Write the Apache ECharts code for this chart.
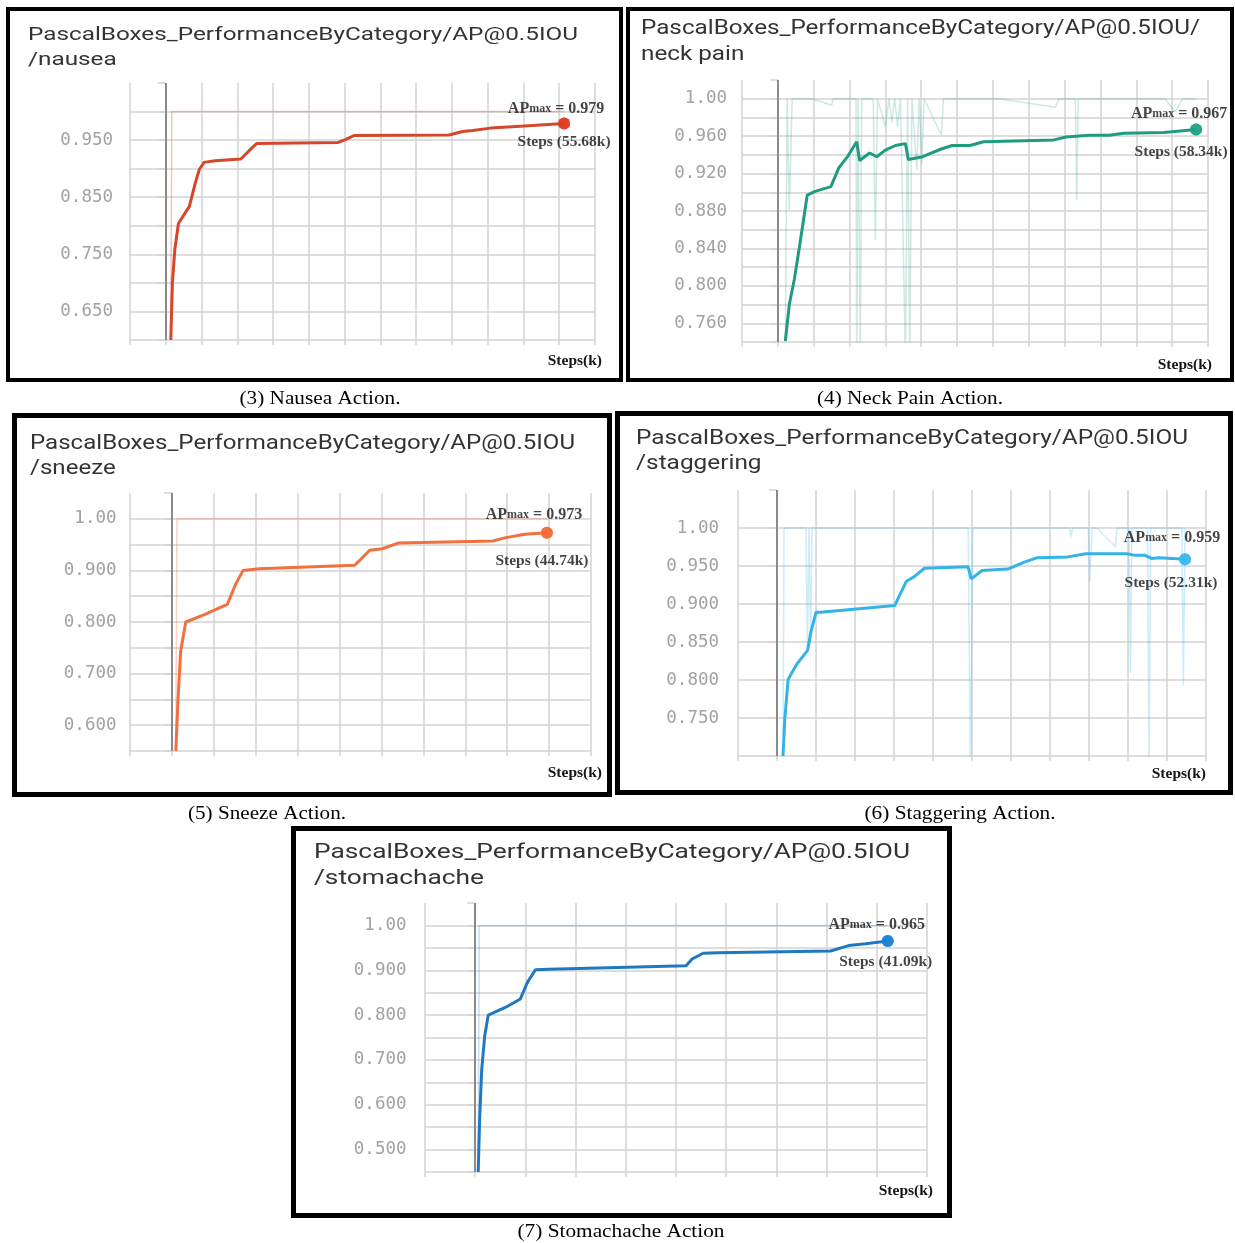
<!DOCTYPE html>
<html>
<head>
<meta charset="utf-8">
<script src="https://cdn.jsdelivr.net/npm/echarts@6/dist/echarts.min.js"></script>
<style>
  html, body { margin: 0; padding: 0; background: #ffffff; }
  #chart { width: 1235px; height: 1243px; }
</style>
</head>
<body>
<div id="chart"></div>
<script>
// ---------------- data (steps in thousands, AP@0.5IOU) ----------------
// smoothed curves
const nauseaSteps = [0.7, 0.93, 1.26, 1.77, 3.3, 4.15, 4.7, 5.36, 6.9, 10.5, 11.6, 12.7, 24.1, 25.1, 26.3, 39.6, 41.5, 42.9, 45.4, 49.0, 55.68];
const nauseaAP    = [0.600, 0.700, 0.758, 0.804, 0.834, 0.876, 0.899, 0.911, 0.914, 0.917, 0.931, 0.944, 0.946, 0.951, 0.958, 0.959, 0.965, 0.967, 0.971, 0.974, 0.979];

const neckPainSteps = [1.04, 1.6, 2.3, 3.1, 4.1, 5.2, 7.4, 8.5, 9.8, 11.0, 11.4, 12.8, 13.8, 15.0, 16.4, 17.8, 18.2, 20.2, 22.7, 24.3, 26.8, 28.7, 38.5, 40.2, 43.4, 46.2, 48.3, 53.8, 58.34];
const neckPainAP    = [0.741, 0.780, 0.807, 0.846, 0.897, 0.901, 0.906, 0.926, 0.939, 0.954, 0.934, 0.942, 0.938, 0.945, 0.950, 0.952, 0.935, 0.938, 0.946, 0.950, 0.950, 0.954, 0.956, 0.959, 0.961, 0.961, 0.963, 0.964, 0.967];

const sneezeSteps = [0.47, 0.7, 1.04, 1.65, 3.8, 6.6, 7.6, 8.5, 10.4, 21.8, 22.5, 23.6, 25.1, 27.0, 38.3, 39.7, 42.1, 44.74];
const sneezeAP    = [0.550, 0.640, 0.743, 0.800, 0.814, 0.834, 0.873, 0.900, 0.903, 0.910, 0.921, 0.939, 0.942, 0.953, 0.957, 0.963, 0.970, 0.973];

const staggeringSteps = [0.77, 1.0, 1.43, 2.55, 3.93, 4.34, 5.0, 5.6, 15.1, 15.6, 16.6, 17.6, 18.9, 24.5, 24.9, 26.3, 29.6, 31.7, 33.4, 37.3, 39.6, 44.9, 45.9, 47.2, 48.0, 49.0, 52.31];
const staggeringAP    = [0.700, 0.749, 0.801, 0.821, 0.839, 0.863, 0.889, 0.889, 0.898, 0.909, 0.930, 0.936, 0.947, 0.949, 0.933, 0.944, 0.946, 0.955, 0.961, 0.962, 0.966, 0.966, 0.964, 0.964, 0.960, 0.961, 0.959];

const stomachacheSteps = [0.3, 0.44, 0.65, 0.95, 1.3, 3.0, 4.5, 5.2, 6.0, 7.35, 21.0, 21.6, 22.7, 24.2, 35.4, 37.2, 38.9, 41.09];
const stomachacheAP    = [0.450, 0.567, 0.679, 0.754, 0.800, 0.817, 0.836, 0.873, 0.901, 0.902, 0.910, 0.925, 0.938, 0.939, 0.943, 0.955, 0.959, 0.965];

// raw (unsmoothed) evaluations drawn faintly behind the curves
const nauseaRawSteps = [0.7, 0.85, 55.68];
const nauseaRawAP    = [0.600, 1.000, 1.000];

const neckPainRawSteps = [1.04, 1.3, 1.6, 2.0, 4.8, 7.5, 7.7, 10.9, 11.0, 11.2, 11.5, 11.7, 13.3, 13.6, 13.9, 15.0, 15.5, 15.9, 16.3, 16.7, 17.1, 17.8, 18.1, 18.4, 18.7, 19.4, 19.7, 20.1, 20.4, 22.8, 23.1, 30.8, 38.7, 39.2, 41.5, 41.7, 41.9, 54.0, 55.4, 56.5, 58.34];
const neckPainRawAP    = [0.741, 1.000, 0.881, 1.000, 1.000, 0.993, 1.000, 1.000, 0.720, 1.000, 0.720, 1.000, 1.000, 0.849, 1.000, 0.970, 1.000, 0.975, 1.000, 0.970, 1.000, 0.720, 1.000, 0.720, 1.000, 0.924, 1.000, 0.930, 1.000, 0.961, 1.000, 1.000, 0.991, 1.000, 1.000, 0.892, 1.000, 1.000, 0.986, 1.000, 1.000];

const sneezeRawSteps = [0.47, 0.6, 44.74];
const sneezeRawAP    = [0.550, 1.000, 1.000];

const staggeringRawSteps = [0.77, 0.9, 3.7, 3.9, 4.1, 4.3, 4.5, 24.5, 24.8, 25.1, 37.5, 37.7, 37.9, 39.9, 40.1, 40.4, 41.0, 43.4, 43.6, 45.1, 45.3, 45.5, 47.5, 47.7, 47.9, 51.9, 52.1, 52.31];
const staggeringRawAP    = [0.700, 1.000, 1.000, 0.840, 1.000, 0.850, 1.000, 1.000, 0.680, 1.000, 1.000, 0.988, 1.000, 1.000, 0.929, 1.000, 1.000, 0.975, 1.000, 1.000, 0.810, 1.000, 1.000, 0.680, 1.000, 1.000, 0.793, 1.000];

const stomachacheRawSteps = [0.3, 0.4, 41.09];
const stomachacheRawAP    = [0.450, 1.000, 1.000];

// axis ranges and tick spacing for the five panels
const xAxisMax   = [60, 60, 50, 55, 45];
const xAxisStep  = 5;
const yAxisMin   = [0.60, 0.74, 0.55, 0.70, 0.45];
const yAxisMax   = [1.05, 1.02, 1.05, 1.05, 1.05];
const yAxisStep  = [0.05, 0.02, 0.05, 0.05, 0.05];
const yLabelEvery = [2, 2, 2, 1, 2];

// texts
const titleLine1 = ['PascalBoxes_PerformanceByCategory/AP@0.5IOU', 'PascalBoxes_PerformanceByCategory/AP@0.5IOU/', 'PascalBoxes_PerformanceByCategory/AP@0.5IOU', 'PascalBoxes_PerformanceByCategory/AP@0.5IOU', 'PascalBoxes_PerformanceByCategory/AP@0.5IOU'];
const titleLine2 = ['/nausea', 'neck pain', '/sneeze', '/staggering', '/stomachache'];
const captions   = ['(3) Nausea Action.', '(4) Neck Pain Action.', '(5) Sneeze Action.', '(6) Staggering Action.', '(7) Stomachache Action'];
const xAxisName  = 'Steps(k)';

const steps    = [nauseaSteps, neckPainSteps, sneezeSteps, staggeringSteps, stomachacheSteps];
const aps      = [nauseaAP, neckPainAP, sneezeAP, staggeringAP, stomachacheAP];
const rawSteps = [nauseaRawSteps, neckPainRawSteps, sneezeRawSteps, staggeringRawSteps, stomachacheRawSteps];
const rawAPs   = [nauseaRawAP, neckPainRawAP, sneezeRawAP, staggeringRawAP, stomachacheRawAP];

// ---------------- styling / layout ----------------
const colors = [
  { line: '#d4472b', raw: 'rgba(212,71,43,0.30)',  dot: '#de3a1e' },
  { line: '#1f9b7f', raw: 'rgba(31,155,127,0.22)', dot: '#1ea384' },
  { line: '#f2703f', raw: 'rgba(242,112,63,0.30)', dot: '#f26c35' },
  { line: '#33b3e6', raw: 'rgba(51,179,230,0.25)', dot: '#38b8ec' },
  { line: '#2079c0', raw: 'rgba(32,121,192,0.25)', dot: '#1c7fd4' }
];

const layout = [
  { grid: [130, 83, 465, 257],   frame: [6, 7, 623, 382, 4],      title: [28, 35, 60, 550, 19],     caption: [320, 399, 161],  labelMargin: 17,   nameGap: 7,   namePad: 13, apOff: [-8, -15],  stOff: [0, 18] },
  { grid: [742, 80, 466, 262],   frame: [626, 7, 1234, 382, 4],   title: [641, 29, 55, 559, 19.5],  caption: [910, 399, 186],  labelMargin: 15,   nameGap: 4,   namePad: 15, apOff: [-17, -16], stOff: [-15, 22] },
  { grid: [130, 493, 461, 258],  frame: [12, 413, 612, 797, 5],   title: [30, 444, 469, 545, 19.5], caption: [267, 814, 158],  labelMargin: 13.5, nameGap: 11,  namePad: 14, apOff: [-13, -18], stOff: [-5, 28] },
  { grid: [738, 490, 468, 266],  frame: [615, 411, 1233, 795, 5], title: [636, 439, 464, 552, 19.5], caption: [960, 814, 191], labelMargin: 19,  nameGap: 0,   namePad: 10, apOff: [-13, -21], stOff: [-14, 24] },
  { grid: [425, 903, 502, 269],  frame: [291, 826, 952, 1218, 5], title: [314, 853, 879, 596, 20.5], caption: [621, 1232, 207], labelMargin: 18.5, nameGap: 6, namePad: 11, apOff: [-11, -16], stOff: [-2, 21] }
];

const GRID_COLOR = '#d3d3d3';
const ZERO_LINE_COLOR = '#8a8a8a';

// text width measurement for horizontally stretched titles/captions
const measureCtx = document.createElement('canvas').getContext('2d');
function textWidth(str, font) { measureCtx.font = font; return measureCtx.measureText(str).width; }

function zip(xs, ys) { return xs.map((x, i) => [x, ys[i]]); }

function yLabelFormatter(p) {
  return function (value) {
    const k = Math.round((value - yAxisMin[p]) / yAxisStep[p]);
    if (k < 1 || (k - 1) % yLabelEvery[p] !== 0 || value > 1.0001) return '';
    return value >= 0.9995 ? '1.00' : value.toFixed(3);
  };
}

const grids = [], xAxes = [], yAxes = [], series = [], graphics = [];

for (let p = 0; p < 5; p++) {
  const L = layout[p];
  const C = colors[p];

  grids.push({ left: L.grid[0], top: L.grid[1], width: L.grid[2], height: L.grid[3], containLabel: false });

  xAxes.push({
    type: 'value', gridIndex: p, min: -xAxisStep, max: xAxisMax[p], interval: xAxisStep,
    axisLine: { show: false },
    axisTick: { show: true, length: 5, lineStyle: { color: GRID_COLOR, width: 1.5 } },
    axisLabel: { show: false },
    splitLine: { show: true, lineStyle: { color: GRID_COLOR, width: 1.5 } },
    name: xAxisName, nameLocation: 'end', nameGap: L.nameGap,
    nameTextStyle: {
      fontFamily: 'Liberation Serif', fontWeight: 'bold', fontSize: 15.5, color: '#151515',
      align: 'right', verticalAlign: 'top', padding: [L.namePad, 0, 0, 0]
    }
  });

  yAxes.push({
    type: 'value', gridIndex: p, min: yAxisMin[p], max: yAxisMax[p], interval: yAxisStep[p],
    axisLine: { show: false },
    axisTick: { show: true, length: 8, lineStyle: { color: GRID_COLOR, width: 1.5 } },
    axisLabel: {
      show: true, margin: L.labelMargin, formatter: yLabelFormatter(p),
      fontFamily: 'DejaVu Sans Mono', fontSize: 17.5, color: '#a2a2a2'
    },
    splitLine: { show: true, showMaxLine: false, lineStyle: { color: GRID_COLOR, width: 1.5 } }
  });

  // raw evaluations + step-zero marker line
  series.push({
    type: 'line', xAxisIndex: p, yAxisIndex: p, data: zip(rawSteps[p], rawAPs[p]),
    showSymbol: false, silent: true, z: 2,
    lineStyle: { color: C.raw, width: 1.5 },
    emphasis: { disabled: true },
    markLine: {
      silent: true, symbol: ['none', 'none'], label: { show: false },
      lineStyle: { color: ZERO_LINE_COLOR, width: 2, type: 'solid' },
      data: [{ xAxis: 0 }]
    }
  });

  // smoothed curve
  series.push({
    type: 'line', xAxisIndex: p, yAxisIndex: p, data: zip(steps[p], aps[p]),
    showSymbol: false, z: 4,
    lineStyle: { color: C.line, width: 3 },
    emphasis: { disabled: true }
  });

  // final point with its annotation
  const n = steps[p].length;
  const lastStep = steps[p][n - 1];
  const lastAP = aps[p][n - 1];
  series.push({
    type: 'scatter', xAxisIndex: p, yAxisIndex: p, z: 5,
    symbol: 'circle', symbolSize: 12,
    itemStyle: { color: C.dot },
    emphasis: { disabled: true },
    data: [
      {
        value: [lastStep, lastAP],
        label: {
          show: true, position: 'inside', offset: L.apOff,
          formatter: '{a|AP}{m|max}{a| = ' + lastAP.toFixed(3) + '}',
          rich: {
            a: { fontFamily: 'Liberation Serif', fontWeight: 'bold', fontSize: 16, color: '#151515' },
            m: { fontFamily: 'Liberation Serif', fontWeight: 'bold', fontSize: 12, color: '#151515' }
          }
        }
      },
      {
        value: [lastStep, lastAP],
        label: {
          show: true, position: 'inside', offset: L.stOff,
          formatter: 'Steps (' + lastStep.toFixed(2) + 'k)',
          fontFamily: 'Liberation Serif', fontWeight: 'bold', fontSize: 15.5, color: '#151515'
        }
      }
    ]
  });

  // frame
  const f = L.frame, lw = f[4];
  graphics.push({
    type: 'rect', silent: true, z: 10,
    shape: { x: f[0] + lw / 2, y: f[1] + lw / 2, width: f[2] - f[0] - lw, height: f[3] - f[1] - lw },
    style: { fill: null, stroke: '#000000', lineWidth: lw }
  });

  // title (two lines, stretched to the panel's width)
  const t = L.title;
  const titleFont = t[4] + 'px Roboto';
  const sx = t[3] / textWidth(titleLine1[p], titleFont);
  [[titleLine1[p], t[1]], [titleLine2[p], t[2]]].forEach(([txt, y]) => {
    graphics.push({
      type: 'text', silent: true, x: t[0], y: y, scaleX: sx, z: 10,
      style: { text: txt, fontFamily: 'Roboto', fontSize: t[4], fill: '#333333', align: 'left', verticalAlign: 'middle' }
    });
  });

  // caption under the panel
  const c = L.caption;
  const capFont = '18px "Liberation Serif"';
  graphics.push({
    type: 'text', silent: true, x: c[0], y: c[1], scaleX: c[2] / textWidth(captions[p], capFont), z: 10,
    style: { text: captions[p], fontFamily: 'Liberation Serif', fontSize: 18, fill: '#000000', align: 'center', verticalAlign: 'middle' }
  });
}

const chart = echarts.init(document.getElementById('chart'), null, { renderer: 'canvas' });
chart.setOption({
  backgroundColor: '#ffffff',
  animation: false,
  grid: grids,
  xAxis: xAxes,
  yAxis: yAxes,
  series: series,
  graphic: graphics
});
</script>
</body>
</html>
